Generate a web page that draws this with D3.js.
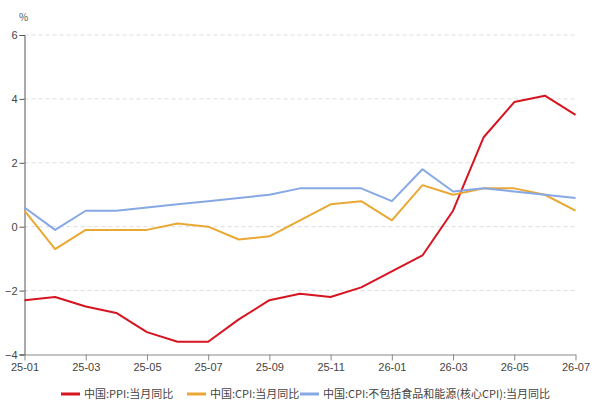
<!DOCTYPE html>
<html><head><meta charset="utf-8">
<script src="https://cdn.jsdelivr.net/npm/d3@7"></script>
<style>body{margin:0;background:#fff;}svg{display:block;font-family:"Noto Sans CJK SC","Open Sans",sans-serif;}</style>
</head><body><svg id="c" width="606" height="402"></svg>
<script>
const months = ["25-01","25-02","25-03","25-04","25-05","25-06","25-07","25-08","25-09","25-10","25-11","25-12","26-01","26-02","26-03","26-04","26-05","26-06","26-07"];
const ppi  = [-2.3,-2.2,-2.5,-2.7,-3.3,-3.6,-3.6,-2.9,-2.3,-2.1,-2.2,-1.9,-1.4,-0.9,0.5,2.8,3.9,4.1,3.5];
const cpi  = [0.5,-0.7,-0.1,-0.1,-0.1,0.1,0.0,-0.4,-0.3,0.2,0.7,0.8,0.2,1.3,1.0,1.2,1.2,1.0,0.5];
const core = [0.6,-0.1,0.5,0.5,0.6,0.7,0.8,0.9,1.0,1.2,1.2,1.2,0.8,1.8,1.1,1.2,1.1,1.0,0.9];
const yTicks = [-4,-2,0,2,4,6];
const xTickLabels = ["25-01","25-03","25-05","25-07","25-09","25-11","26-01","26-03","26-05","26-07"];
const seriesNames = ["中国:PPI:当月同比","中国:CPI:当月同比","中国:CPI:不包括食品和能源(核心CPI):当月同比"];
const colors = ["#d7141f","#e9a834","#86a8e4"];

const svg = d3.select("#c");
const L=24.5, R=575.5, T=35, B=354.5;
const x = d3.scalePoint().domain(months).range([L,R]);
const y = d3.scaleLinear().domain([-4,6]).range([B,T]);

// grid
svg.append("g").selectAll("line").data(yTicks.filter(d=>d!==-4)).join("line")
  .attr("x1",L).attr("x2",R).attr("y1",d=>y(d)).attr("y2",d=>y(d))
  .attr("stroke","#dcdcdc").attr("stroke-dasharray","4,3").attr("stroke-width",1);

// y axis
const ya = svg.append("g").attr("transform",`translate(${L},0)`)
  .call(d3.axisLeft(y).tickValues(yTicks).tickSize(5).tickPadding(2).tickFormat(d3.format("d")));
ya.select(".domain").attr("stroke","#555");
ya.selectAll(".tick line").attr("stroke","#555");
ya.selectAll("text").attr("fill","#444").style("font-size","11px");

// x axis
const xa = svg.append("g").attr("transform",`translate(0,${B})`)
  .call(d3.axisBottom(x).tickValues(xTickLabels).tickSize(6).tickPadding(3).tickSizeOuter(0));
xa.select(".domain").attr("stroke","#888");
xa.selectAll(".tick line").attr("stroke","#888");
xa.selectAll("text").attr("fill","#444").style("font-size","11px");

svg.append("text").attr("x",19).attr("y",21).attr("fill","#555").style("font-size","10px").text("%");

const line = d3.line().x((d,i)=>x(months[i])).y(d=>y(d));
[ppi,cpi,core].forEach((s,k)=>{
  svg.append("path").datum(s).attr("d",line).attr("fill","none")
    .attr("stroke",colors[k]).attr("stroke-width",2).attr("stroke-linejoin","round");
});
// order: core drawn behind? draw core first then cpi then ppi
// legend
const legX = [61,187,300];
seriesNames.forEach((n,k)=>{
  const g = svg.append("g").attr("transform",`translate(${legX[k]},394)`);
  g.append("line").attr("x1",0).attr("x2",19).attr("y1",0).attr("y2",0).attr("stroke",colors[k]).attr("stroke-width",3);
  g.append("text").attr("x",23).attr("y",4).attr("fill","#444").style("font-size","11px").text(n);
});
</script></body></html>
